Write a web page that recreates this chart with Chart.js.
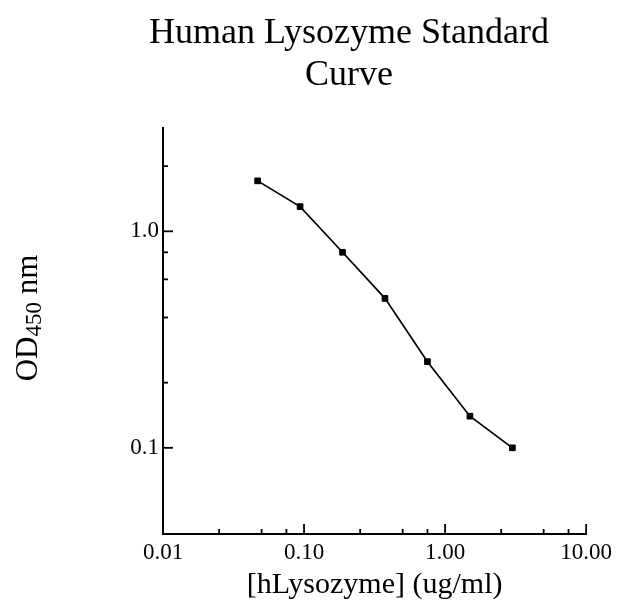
<!DOCTYPE html>
<html>
<head>
<meta charset="utf-8">
<script src="https://cdn.jsdelivr.net/npm/chart.js@4/dist/chart.umd.min.js"></script>
<style>
	body { margin: 0; background: #fff; }
	canvas { display: block; }
</style>
</head>
<body>
<canvas id="curveChart" width="617" height="608"></canvas>
<script>
// data
var concentration = [0.046875, 0.09375, 0.1875, 0.375, 0.75, 1.5, 3];
var odValues = [1.71, 1.30, 0.80, 0.49, 0.25, 0.14, 0.10];

// axis ticks
var xMajorTicks = [0.01, 0.1, 1, 10];
var xTickLabels = ['0.01', '0.10', '1.00', '10.00'];
var xMinorTicks = [0.025, 0.05, 0.075, 0.25, 0.5, 0.75, 2.5, 5, 7.5];
var yMajorTicks = [0.1, 1];
var yTickLabels = ['0.1', '1.0'];
var yMinorTicks = [0.2, 0.4, 0.6, 0.8, 2];

var titleLines = ['Human Lysozyme Standard', 'Curve'];
var xTitle = '[hLysozyme] (ug/ml)';

var serif = '"Liberation Serif", "Times New Roman", serif';

var points = [];
for (var i = 0; i < concentration.length; i++) {
	points.push({x: concentration[i], y: odValues[i]});
}

function tickList(majors, minors) {
	var list = [];
	majors.forEach(function (v) { list.push({value: v, major: true}); });
	minors.forEach(function (v) { list.push({value: v, major: false}); });
	list.sort(function (a, b) { return a.value - b.value; });
	return list;
}

function labelFor(majors, labels, value) {
	for (var i = 0; i < majors.length; i++) {
		if (Math.abs(majors[i] - value) < 1e-9) return labels[i];
	}
	return '';
}

// ticks point into the plot, so draw them here
var inwardTicks = {
	id: 'inwardTicks',
	afterDatasetsDraw: function (chart) {
		var ctx = chart.ctx;
		var xs = chart.scales.x;
		var ys = chart.scales.y;
		ctx.save();
		ctx.strokeStyle = '#000';
		ctx.lineWidth = 1.8;
		xs.ticks.forEach(function (t) {
			var px = xs.getPixelForValue(t.value);
			var len = t.major ? 10 : 5;
			ctx.beginPath();
			ctx.moveTo(px, xs.top);
			ctx.lineTo(px, xs.top - len);
			ctx.stroke();
		});
		ys.ticks.forEach(function (t) {
			var py = ys.getPixelForValue(t.value);
			var len = t.major ? 10 : 5;
			ctx.beginPath();
			ctx.moveTo(ys.right, py);
			ctx.lineTo(ys.right + len, py);
			ctx.stroke();
		});
		ctx.restore();
	}
};

// title and the y label with its subscript
var labels = {
	id: 'labels',
	afterDraw: function (chart) {
		var ctx = chart.ctx;
		ctx.save();
		ctx.fillStyle = '#000';
		ctx.textAlign = 'center';
		ctx.textBaseline = 'alphabetic';
		ctx.font = '36px ' + serif;
		ctx.fillText(titleLines[0], 349, 43);
		ctx.fillText(titleLines[1], 349, 85);

		var big = '31px ' + serif;
		var small = '23px ' + serif;
		ctx.font = big;
		var w1 = ctx.measureText('OD').width;
		var w3 = ctx.measureText(' nm').width;
		ctx.font = small;
		var w2 = ctx.measureText('450').width;
		var total = w1 + w2 + w3;
		ctx.translate(36.5, 318);
		ctx.rotate(-Math.PI / 2);
		ctx.textAlign = 'left';
		var x0 = -total / 2;
		ctx.font = big;
		ctx.fillText('OD', x0, 0);
		ctx.font = small;
		ctx.fillText('450', x0 + w1, 4);
		ctx.font = big;
		ctx.fillText(' nm', x0 + w1 + w2, 0);
		ctx.restore();
	}
};

new Chart('curveChart', {
	type: 'line',
	data: {
		datasets: [{
			data: points,
			borderColor: '#000',
			borderWidth: 1.7,
			backgroundColor: '#000',
			pointStyle: 'rect',
			pointRadius: 4,
			pointBorderWidth: 1,
			pointBackgroundColor: '#000',
			pointBorderColor: '#000',
			tension: 0,
			fill: false
		}]
	},
	options: {
		responsive: false,
		animation: false,
		layout: {padding: {left: 0, top: 128, right: 27, bottom: 0}},
		plugins: {
			legend: {display: false},
			title: {display: false},
			tooltip: {enabled: false}
		},
		scales: {
			x: {
				type: 'logarithmic',
				min: 0.01,
				max: 10,
				grid: {display: false, drawTicks: false},
				border: {display: true, color: '#000', width: 2},
				afterBuildTicks: function (scale) {
					scale.ticks = tickList(xMajorTicks, xMinorTicks);
				},
				afterFit: function (scale) { scale.height = 74; },
				ticks: {
					autoSkip: false,
					maxRotation: 0,
					padding: 5,
					color: '#000',
					font: {family: serif, size: 23},
					callback: function (value) { return labelFor(xMajorTicks, xTickLabels, value); }
				},
				title: {
					display: true,
					text: xTitle,
					color: '#000',
					font: {family: serif, size: 30},
					padding: {top: 0, bottom: 5}
				}
			},
			y: {
				type: 'logarithmic',
				min: 0.04,
				max: 3,
				grid: {display: false, drawTicks: false},
				border: {display: true, color: '#000', width: 2},
				afterBuildTicks: function (scale) {
					scale.ticks = tickList(yMajorTicks, yMinorTicks);
				},
				afterFit: function (scale) { scale.width = 163; },
				ticks: {
					autoSkip: false,
					padding: 4,
					color: '#000',
					font: {family: serif, size: 23},
					callback: function (value) { return labelFor(yMajorTicks, yTickLabels, value); }
				}
			}
		}
	},
	plugins: [inwardTicks, labels]
});
</script>
</body>
</html>
